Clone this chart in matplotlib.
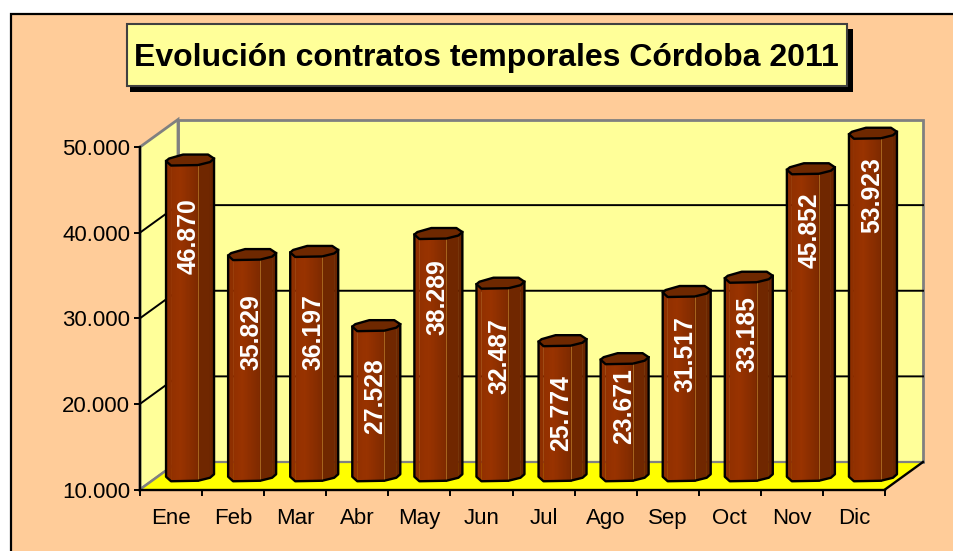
import numpy as np
import matplotlib
matplotlib.use("Agg")
import matplotlib.pyplot as plt
from matplotlib.patches import Rectangle
from matplotlib.transforms import IdentityTransform

months = ["Ene", "Feb", "Mar", "Abr", "May", "Jun", "Jul", "Ago", "Sep", "Oct", "Nov", "Dic"]
contracts = [46870, 35829, 36197, 27528, 38289, 32487, 25774, 23671, 31517, 33185, 45852, 53923]
value_labels = ["46.870", "35.829", "36.197", "27.528", "38.289", "32.487",
                "25.774", "23.671", "31.517", "33.185", "45.852", "53.923"]
label_heights = [39590, 28360, 28360, 20880, 32460, 25560, 18950, 19700, 25790, 28130, 40290, 44390]
y_ticks = [10000, 20000, 30000, 40000, 50000]
y_tick_labels = ["10.000", "20.000", "30.000", "40.000", "50.000"]
title = "Evolución contratos temporales Córdoba 2011"

W, H = 954, 551
BG, WALL, FLOOR = "#FFCC99", "#FFFF99", "#FFFF00"
GREY = "#808080"
plt.rcParams["font.family"] = ["Liberation Sans", "DejaVu Sans"]

fig = plt.figure(figsize=(W / 100, H / 100), dpi=100, facecolor="white")
px = IdentityTransform()
def box(x0, y0, x1, y1, **kw):
    fig.add_artist(Rectangle((x0, H - y1), x1 - x0, y1 - y0, transform=px, **kw))

# chart area
box(10.5, 13.5, W + 5, H + 5, facecolor=BG, edgecolor="black", linewidth=1.6, zorder=-1)

L, R, B, T = 140, 885, 489.5, 147
ax = fig.add_axes([L / W, (H - B) / H, (R - L) / W, (B - T) / H])
ax.set_xlim(0, 12)
ax.set_ylim(10000, 50000)
ax.patch.set_visible(False)

ux = 12 / (R - L)
uy = 40000 / (B - T)
DX, DY = 38 * ux, 27.5 * uy

def proj(x, y, d):
    return x + d * DX, y + d * DY

# walls and floor
bx = [0, 12, 12, 0]
by = [10000, 10000, 50000, 50000]
X, Y = proj(np.array(bx, float), np.array(by, float), 1)
ax.fill(X, Y, fc=WALL, ec=GREY, lw=2, clip_on=False, zorder=1)
wx, wy = proj(np.zeros(4), np.array([10000, 50000, 50000, 10000.]), np.array([0, 0, 1, 1.]))
ax.fill(wx, wy, fc=WALL, ec=GREY, lw=2, clip_on=False, zorder=1)
fx, fy = proj(np.array([0, 12, 12, 0.]), np.full(4, 10000.), np.array([0, 0, 1, 1.]))
ax.fill(fx, fy, fc=FLOOR, ec="none", clip_on=False, zorder=1.1)
ax.plot([fx[3], fx[2]], [fy[3], fy[2]], color=GREY, lw=1.6, clip_on=False, zorder=1.15)
ax.plot([fx[1], fx[2]], [fy[1], fy[2]], color="black", lw=1.7, clip_on=False, zorder=1.2)
ax.plot([fx[0], fx[3]], [fy[0], fy[3]], color=GREY, lw=1.7, clip_on=False, zorder=1.2)
for v in y_ticks[1:-1]:
    gx, gy = proj(np.array([0, 0, 12.]), np.full(3, float(v)), np.array([0, 1, 1.]))
    ax.plot(gx, gy, color="black", lw=1.4, clip_on=False, zorder=1.3)

# octagonal column cross-section, in pixels from the column centre
shape = np.array([(-24, -1), (-21, 1.5), (-7, 5.5), (18, 5.5), (24, 1.5), (20, -2), (8, -5), (-19, -5.5)], float)
sx, sy = shape[:, 0] * ux, shape[:, 1] * uy
stops = np.array([[0x92, 0x30, 0x00], [0x99, 0x33, 0x00], [0x7E, 0x2A, 0x00]]) / 255

def face(cx, y0, y1, a, b, color, z):
    xs = [cx + sx[a], cx + sx[b], cx + sx[b], cx + sx[a]]
    ys = [y0 + sy[a], y0 + sy[b], y1 + sy[b], y1 + sy[a]]
    ax.fill(xs, ys, fc=color, ec=color, lw=0.3, clip_on=False, zorder=z)

ymax = ax.get_ylim()[1]
heights = np.minimum(contracts, ymax)
for i, (h, lab, lh) in enumerate(zip(heights, value_labels, label_heights)):
    cx, ybase = proj(i + 0.5, 10000.0, 0.5)
    _, ytop = proj(i + 0.5, float(h), 0.5)
    z = 2 + i * 0.01
    face(cx, ybase, ytop, 0, 7, "#8E2F00", z)
    # front face: shaded strips, each painted through to the right edge so no seams show
    n = 24
    t = np.linspace(0, 1, n + 1)
    fxs = sx[7] + (sx[6] - sx[7]) * t
    fys = sy[7] + (sy[6] - sy[7]) * t
    for k in range(n):
        m = (t[k] + t[k + 1]) / 2
        c = stops[0] + (stops[1] - stops[0]) * m / .35 if m < .35 else stops[1] + (stops[2] - stops[1]) * (m - .35) / .65
        ax.fill([cx + fxs[k], cx + fxs[-1], cx + fxs[-1], cx + fxs[k]],
                [ybase + fys[k], ybase + fys[-1], ytop + fys[-1], ytop + fys[k]],
                fc=c, ec="none", clip_on=False, zorder=z)
    face(cx, ybase, ytop, 6, 5, "#702700", z)
    face(cx, ybase, ytop, 5, 4, "#6A2500", z)
    ax.plot([cx + sx[6]] * 2, [ybase + sy[6], ytop + sy[6]], color="#A8651E", lw=0.7, clip_on=False, zorder=z)
    # top cap
    ax.fill(cx + sx, ytop + sy, fc="#6E2800", ec="black", lw=1.7, clip_on=False, zorder=z, joinstyle="round")
    # silhouette
    idx_low = [0, 7, 6, 5, 4]
    ox = [cx + sx[0]] + [cx + sx[j] for j in idx_low] + [cx + sx[4]]
    oy = [ytop + sy[0]] + [ybase + sy[j] for j in idx_low] + [ytop + sy[4]]
    ax.plot(ox, oy, color="black", lw=1.7, clip_on=False, zorder=z, solid_joinstyle="round")
    ax.text(cx - 1 * ux, lh, lab, rotation=90, ha="center", va="center", color="white",
            fontsize=17.8, fontweight="bold", clip_on=False, zorder=3)

# axes
for s in ("top", "right"):
    ax.spines[s].set_visible(False)
for s in ("left", "bottom"):
    ax.spines[s].set_linewidth(1.7)
    ax.spines[s].set_zorder(1.5)
ax.set_yticks(y_ticks, y_tick_labels, fontsize=16)
ax.tick_params(axis="y", length=4, width=1.4, pad=3)
ax.set_xticks(np.arange(13), [""] * 13)
ax.tick_params(axis="x", which="major", length=4, width=1.4)
ax.set_xticks(np.arange(12) + 0.5, months, minor=True, fontsize=16)
ax.tick_params(axis="x", which="minor", length=0, pad=13)

# title box
box(130, 29, 853, 92, facecolor="black", edgecolor="none", zorder=5)
box(126.5, 23.5, 847, 86, facecolor=WALL, edgecolor="#404040", linewidth=1.5, zorder=6)
fig.text(486, H - 58, title, transform=px, ha="center", va="center",
         fontsize=23, fontweight="bold", color="black", zorder=7)

fig.savefig("out.png", dpi=100, facecolor="white")
